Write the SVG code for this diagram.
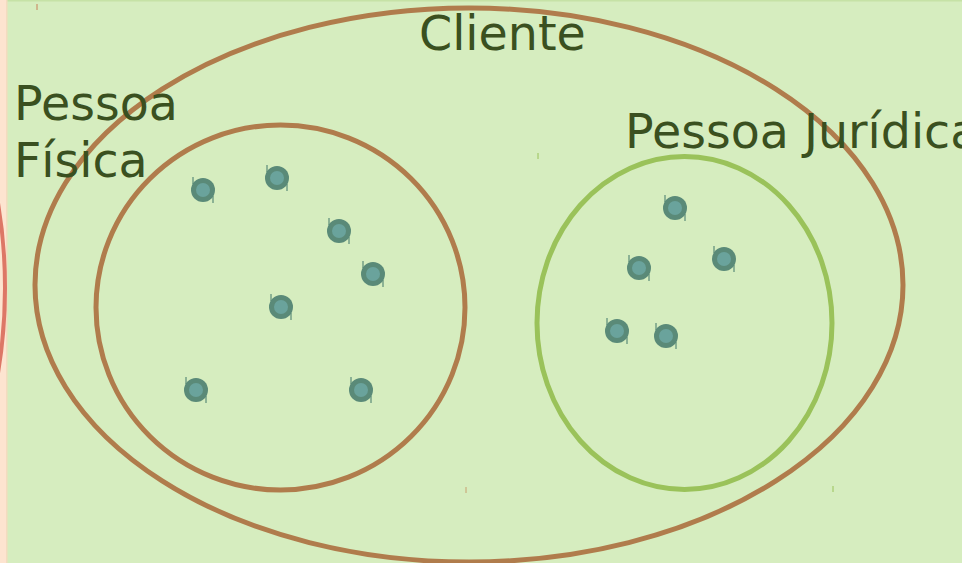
<svg xmlns="http://www.w3.org/2000/svg" width="962" height="563" viewBox="0 0 962 563">
<defs>
<style>
.set{fill:none;stroke-width:5}
.outer{stroke:#b07c4c}
.pj{stroke:#9ac25a}
.lbl{font-family:"DejaVu Sans",sans-serif;font-size:47.5px;fill:#3a5020}
</style>
<g id="pt">
<line x1="-10" y1="-13" x2="-10" y2="-6" stroke="#5a8a78" stroke-width="1.2"/>
<line x1="10" y1="6" x2="10" y2="13" stroke="#5a8a78" stroke-width="1.2"/>
<circle r="12" fill="#5a8a78"/>
<circle r="7" fill="#6aa39c"/>
</g>
</defs>
<rect width="962" height="563" fill="#d6edbf"/>
<rect width="962" height="1.5" fill="#c6e2a6"/>
<rect width="6" height="563" fill="#fde4d0"/>
<rect x="6" width="1.5" height="563" fill="#f3dcc0"/>
<ellipse cx="-200" cy="288" rx="205" ry="328" fill="none" stroke="#dd7766" stroke-width="4"/>
<g id="cliente">
<ellipse class="set outer" cx="469" cy="285" rx="434" ry="277"/>
<text class="lbl" x="419" y="50">Cliente</text>
</g>
<g id="pessoa-fisica">
<ellipse class="set outer" cx="280.5" cy="307.5" rx="184.5" ry="182.5"/>
<text class="lbl" x="14" y="120">Pessoa</text>
<text class="lbl" x="14" y="177">Física</text>
</g>
<g id="pessoa-juridica">
<ellipse class="set pj" cx="684.5" cy="323" rx="147.5" ry="166.5"/>
<text class="lbl" x="625" y="148">Pessoa Jurídica</text>
</g>
<g id="elements">
<use href="#pt" x="203" y="190"/>
<use href="#pt" x="277" y="178"/>
<use href="#pt" x="339" y="231"/>
<use href="#pt" x="373" y="274"/>
<use href="#pt" x="281" y="307"/>
<use href="#pt" x="196" y="390"/>
<use href="#pt" x="361" y="390"/>
<use href="#pt" x="675" y="208"/>
<use href="#pt" x="639" y="268"/>
<use href="#pt" x="724" y="259"/>
<use href="#pt" x="617" y="331"/>
<use href="#pt" x="666" y="336"/>
</g>
<g id="ticks" stroke-width="1">
<line x1="37" y1="4" x2="37" y2="10" stroke="#c8805a"/>
<line x1="466" y1="487" x2="466" y2="493" stroke="#c8a070"/>
<line x1="833" y1="486" x2="833" y2="492" stroke="#9ac25a"/>
<line x1="538" y1="153" x2="538" y2="159" stroke="#9ac25a"/>
</g>
</svg>
